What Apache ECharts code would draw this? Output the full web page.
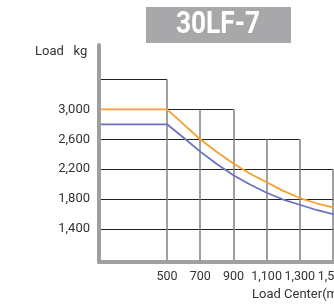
<!DOCTYPE html>
<html>
<head>
<meta charset="utf-8">
<script src="https://cdn.jsdelivr.net/npm/echarts@6/dist/echarts.min.js"></script>
<style>
  html, body { margin: 0; padding: 0; background: #fff; }
  #chart { width: 334px; height: 307px; }
</style>
</head>
<body>
<div id="chart"></div>
<script>
// load center (mm) and capacity (kg)
const loadCenter = [90, 500, 600, 700, 800, 900, 1000, 1100, 1200, 1300, 1400, 1500, 1600]
const orangeLoad = [3000, 3000, 2800, 2600, 2430, 2275, 2140, 2025, 1910, 1815, 1745, 1690, 1640]
const blueLoad = [2800, 2800, 2620, 2435, 2270, 2120, 1995, 1885, 1795, 1725, 1655, 1600, 1555]

const xTicks = [500, 700, 900, 1100, 1300, 1500]
const yTicks = [1400, 1800, 2200, 2600, 3000]

const X_MIN = 90
const X_MAX = 1506
const Y_MIN = 960
const Y_MAX = 3860

// staircase grid: [load, right end] and [load center, top]
const hLines = [[3400, 500], [3000, 900], [2600, 1300], [2200, 1500], [1800, X_MAX], [1400, X_MAX]]
const vLines = [[500, 3400], [700, 3000], [900, 3000], [1100, 2600], [1300, 2600], [1500, 2200]]

const font = 'Roboto, sans-serif'
const chart = echarts.init(document.getElementById('chart'))

const pairs = (ys) => loadCenter.map((x, i) => [x, ys[i]])

chart.setOption({
  animation: false,
  grid: { left: 99, right: 0, top: 45, bottom: 45, outerBoundsMode: 'none' },
  xAxis: {
    type: 'value',
    min: X_MIN,
    max: X_MAX,
    z: 5,
    axisLine: { lineStyle: { color: '#a0a0a0', width: 4 } },
    axisTick: { show: false },
    splitLine: { show: false },
    axisLabel: {
      customValues: xTicks,
      margin: 8,
      color: '#333',
      fontFamily: font,
      fontSize: 12.5,
      formatter: (v) => v.toLocaleString('en-US')
    }
  },
  yAxis: {
    type: 'value',
    min: Y_MIN,
    max: Y_MAX,
    z: 5,
    axisLine: { show: true, lineStyle: { color: '#a0a0a0', width: 4 } },
    axisTick: { show: false },
    splitLine: { show: false },
    axisLabel: {
      customValues: yTicks,
      margin: 9,
      color: '#333',
      fontFamily: font,
      fontSize: 13,
      formatter: (v) => v.toLocaleString('en-US')
    }
  },
  graphic: [
    {
      type: 'rect',
      shape: { x: 146, y: 7, width: 145, height: 36 },
      style: { fill: '#a8a8aa' }
    },
    {
      type: 'text',
      x: 218,
      y: 25,
      scaleX: 0.82,
      style: {
        text: '30LF-7',
        fill: '#fff',
        font: 'bold 32px ' + font,
        align: 'center',
        verticalAlign: 'middle'
      }
    },
    {
      type: 'text',
      x: 35,
      y: 52,
      style: {
        text: 'Load   kg',
        fill: '#333',
        font: '13px ' + font,
        verticalAlign: 'middle'
      }
    },
    {
      type: 'text',
      x: 252,
      y: 295,
      style: {
        text: 'Load Center(mm)',
        fill: '#333',
        font: '13px ' + font,
        verticalAlign: 'middle'
      }
    }
  ],
  series: [
    {
      type: 'lines',
      coordinateSystem: 'cartesian2d',
      silent: true,
      z: 1,
      lineStyle: { color: '#222', width: 1, opacity: 1 },
      data: hLines.map(([y, x2]) => ({ coords: [[X_MIN, y], [x2, y]] }))
    },
    {
      type: 'lines',
      coordinateSystem: 'cartesian2d',
      silent: true,
      z: 1,
      lineStyle: { color: '#808080', width: 1.5, opacity: 1 },
      data: vLines.map(([x, y2]) => ({ coords: [[x, Y_MIN], [x, y2]] }))
    },
    {
      type: 'line',
      data: pairs(orangeLoad),
      showSymbol: false,
      z: 3,
      lineStyle: { color: '#f5a02f', width: 1.8 }
    },
    {
      type: 'line',
      data: pairs(blueLoad),
      showSymbol: false,
      z: 3,
      lineStyle: { color: '#6b72c2', width: 1.8 }
    }
  ]
})
</script>
</body>
</html>
